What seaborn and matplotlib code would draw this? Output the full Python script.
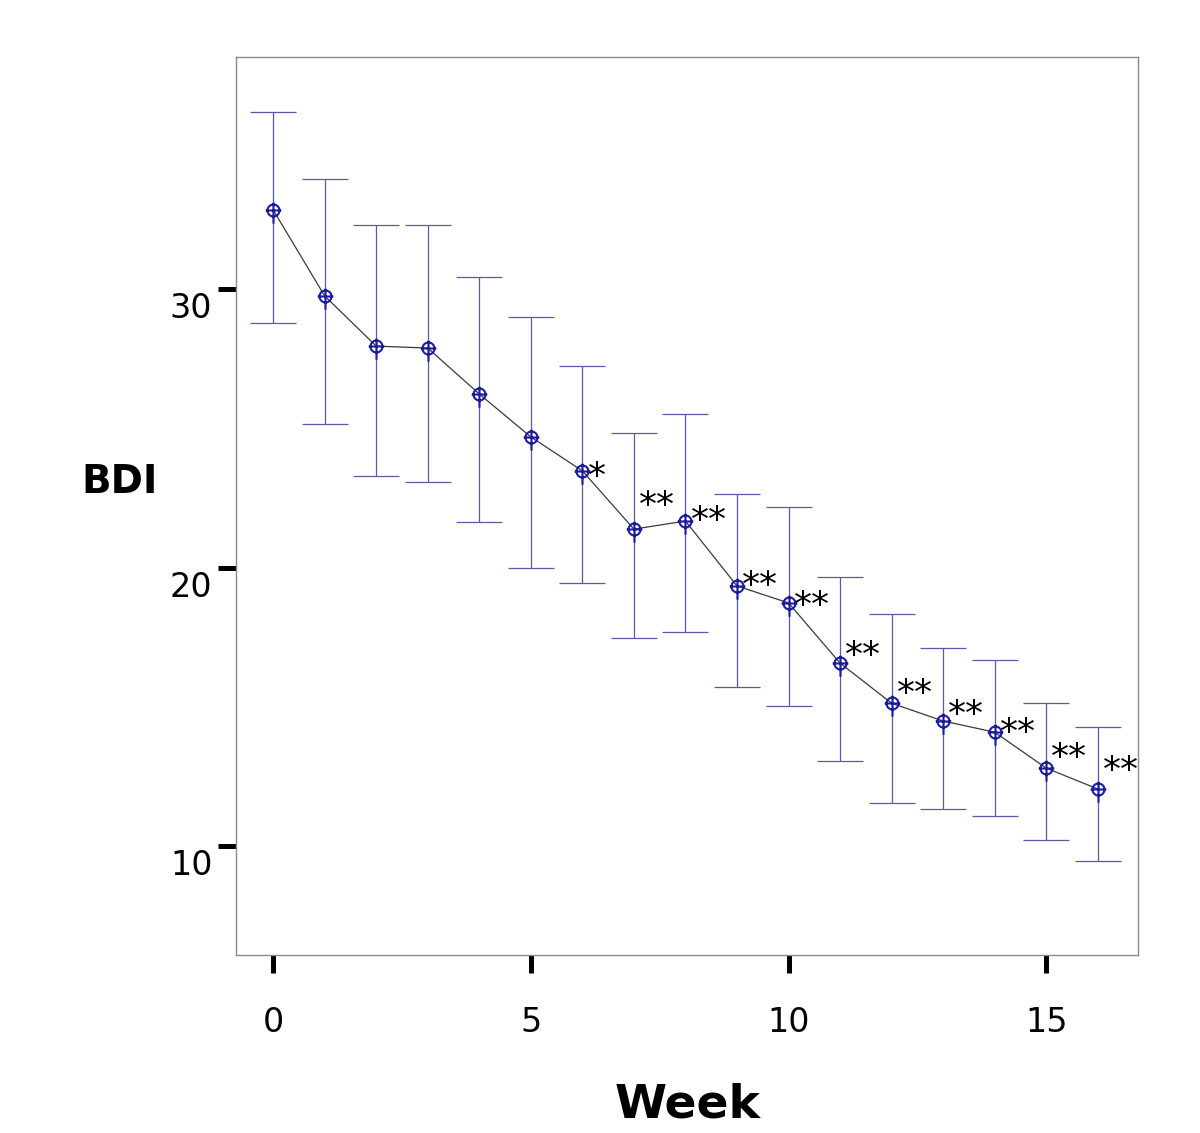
import matplotlib
matplotlib.use("Agg")
import matplotlib.pyplot as plt
import numpy as np
import pandas as pd
import seaborn as sns
from matplotlib.path import Path
from matplotlib.transforms import ScaledTranslation

weeks = list(range(17))
bdi_mean = [32.84, 29.75, 27.95, 27.88, 26.23, 24.69, 23.47, 21.38, 21.67,
            19.34, 18.73, 16.57, 15.13, 14.49, 14.09, 12.80, 12.05]
bdi_upper = [36.36, 33.95, 32.30, 32.30, 30.43, 28.99, 27.24, 24.83, 25.51,
             22.64, 22.17, 19.66, 18.33, 17.11, 16.68, 15.13, 14.27]
bdi_lower = [28.78, 25.15, 23.29, 23.07, 21.63, 19.98, 19.44, 17.47, 17.68,
             15.71, 15.03, 13.05, 11.54, 11.33, 11.08, 10.22, 9.46]

# significance markers (week, label, label height)
sig_weeks = [6, 7, 8, 9, 10, 11, 12, 13, 14, 15, 16]
sig_labels = ["*", "**", "**", "**", "**", "**", "**", "**", "**", "**", "**"]
sig_y = [23.46, 22.42, 21.88, 19.55, 18.83, 17.04, 15.67, 14.92, 14.27, 13.38, 12.91]

df = pd.DataFrame({"week": weeks, "bdi": bdi_mean, "hi": bdi_upper, "lo": bdi_lower})

sns.set_style("white")
plt.rcParams["font.family"] = ["DejaVu Sans"]
plt.rcParams["text.color"] = "black"

fig = plt.figure(figsize=(12, 11.33), dpi=100)
ax = fig.add_axes([0.1967, 0.1571, 0.7516, 0.7926])

bar_col = "#5a5aa8"
ax.errorbar(df["week"], df["bdi"],
            yerr=[df["bdi"] - df["lo"], df["hi"] - df["bdi"]],
            fmt="none", ecolor=bar_col, elinewidth=0.9, capsize=16.5,
            capthick=0.9, zorder=1)

sns.lineplot(data=df, x="week", y="bdi", color="#3a3a3a", linewidth=0.9,
             ax=ax, zorder=2)

# circle with cross hair and a longer downward tail
t = np.linspace(0, 2 * np.pi, 40)
circ = np.column_stack([np.cos(t), np.sin(t)])
verts = list(circ) + [(-1.3, 0.0), (1.3, 0.0), (0.0, 1.3), (0.0, -2.2)]
codes = ([Path.MOVETO] + [Path.LINETO] * (len(circ) - 1)
         + [Path.MOVETO, Path.LINETO, Path.MOVETO, Path.LINETO])
cross_marker = Path(verts, codes)

ax.plot(df["week"], df["bdi"], linestyle="none", marker=cross_marker,
        markersize=19, markerfacecolor="none", markeredgecolor="#1c1ca0",
        markeredgewidth=1.5, zorder=3)

# DejaVu's asterisk sits high in the em box, nudge it down a little
star_shift = ax.transData + ScaledTranslation(0, -0.06, fig.dpi_scale_trans)
for w, lab, y in zip(sig_weeks, sig_labels, sig_y):
    ax.text(w + 0.1, y, lab, fontsize=26, ha="left", va="center",
            color="black", transform=star_shift)

ax.set_xlim(-0.72, 16.78)
ax.set_ylim(6.09, 38.33)
ax.set_xticks([0, 5, 10, 15])
ax.set_yticks([10, 20, 30])

for sp in ax.spines.values():
    sp.set_visible(True)
    sp.set_color("#8a8a8a")
    sp.set_linewidth(1.0)

ax.tick_params(axis="y", direction="out", length=13, width=3.6, color="black",
               labelsize=24, labelcolor="black", pad=4, left=True)
ax.tick_params(axis="x", direction="out", length=13, width=3.6, color="black",
               labelsize=24, labelcolor="black", pad=24, bottom=True)
shift = ScaledTranslation(0, -0.16, fig.dpi_scale_trans)
for lab in ax.get_yticklabels():
    lab.set_transform(lab.get_transform() + shift)

ax.set_xlabel("Week", fontsize=34, fontweight="bold", color="black")
ax.set_ylabel("BDI", fontsize=28, fontweight="bold", rotation=0,
              ha="center", va="center", color="black")
ax.xaxis.set_label_coords(0.501, -0.1425)
ax.yaxis.set_label_coords(-0.1286, 0.527)

fig.savefig("out.png", dpi=100)
